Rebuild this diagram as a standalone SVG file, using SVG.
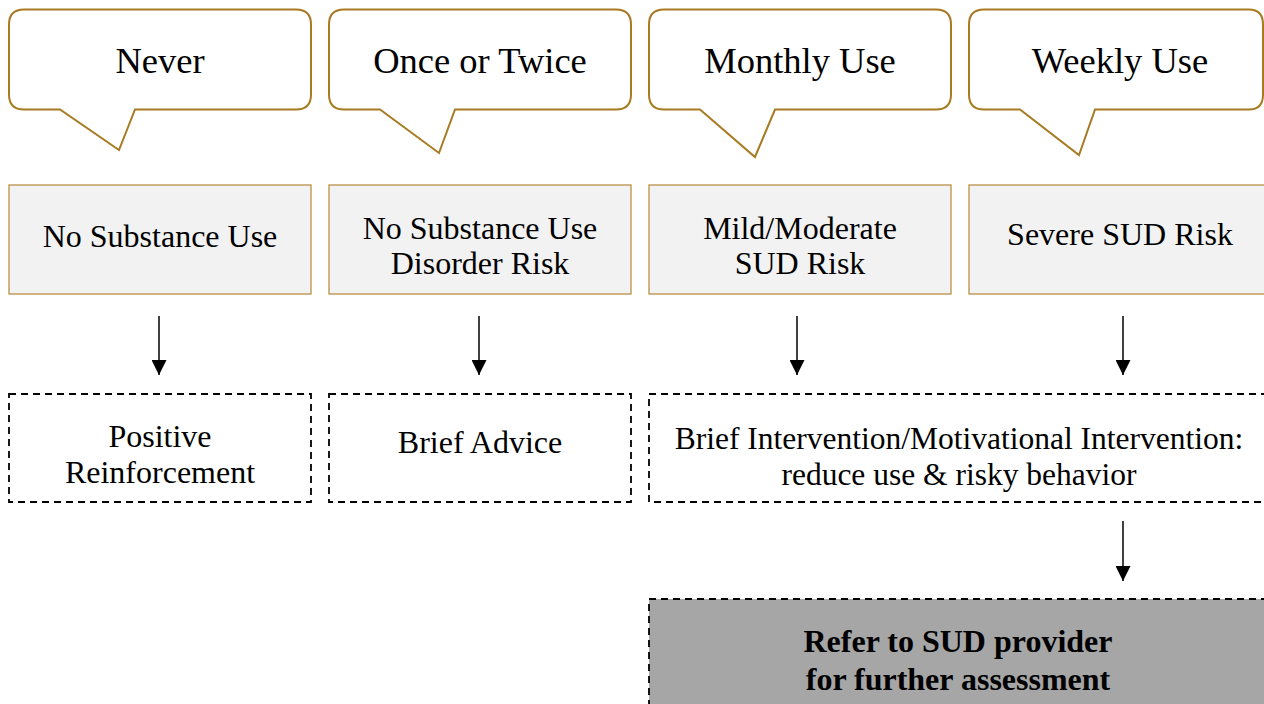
<svg xmlns="http://www.w3.org/2000/svg" width="1264" height="704" viewBox="0 0 1264 704">
<style>
.callout{fill:#ffffff;stroke:#a87b22;stroke-width:2;stroke-linejoin:miter}
.risk{fill:#f2f2f2;stroke:#b88f45;stroke-width:1.3}
.act{fill:#ffffff;stroke:#000;stroke-width:1.8;stroke-dasharray:7 5}
.ref{fill:#a6a6a6;stroke:#000;stroke-width:1.8;stroke-dasharray:7 5}
text{font-family:"Liberation Serif","Times New Roman",serif;fill:#000;text-anchor:middle}
.t1{font-size:36.5px}
.t2{font-size:32px}
.t3{font-size:31.5px}
.tb{font-size:32px;font-weight:bold}
.shaft{stroke:#404040;stroke-width:2;fill:none}
</style>
<defs>
<marker id="ah" viewBox="0 0 15 15" refX="15" refY="7.5" markerWidth="15" markerHeight="15" markerUnits="userSpaceOnUse" orient="auto">
<path d="M0,0 L15,7.5 L0,15 Z" fill="#000"/>
</marker>
</defs>

<g id="callout-never">
<path class="callout" d="M24,9.5 H296 Q311,9.5 311,24.5 V94.5 Q311,109.5 296,109.5 H135 L119,150 L60,109.5 H24 Q9,109.5 9,94.5 V24.5 Q9,9.5 24,9.5 Z"/>
<text class="t1" x="160" y="73">Never</text>
</g>
<g id="callout-once">
<path class="callout" d="M344,9.5 H616 Q631,9.5 631,24.5 V94.5 Q631,109.5 616,109.5 H455 L439,153 L380,109.5 H344 Q329,109.5 329,94.5 V24.5 Q329,9.5 344,9.5 Z"/>
<text class="t1" x="480" y="73">Once or Twice</text>
</g>
<g id="callout-monthly">
<path class="callout" d="M664,9.5 H936 Q951,9.5 951,24.5 V94.5 Q951,109.5 936,109.5 H775 L755,157 L700,109.5 H664 Q649,109.5 649,94.5 V24.5 Q649,9.5 664,9.5 Z"/>
<text class="t1" x="800" y="73">Monthly Use</text>
</g>
<g id="callout-weekly">
<path class="callout" d="M984,9.5 H1249 Q1263,9.5 1263,24.5 V94.5 Q1263,109.5 1249,109.5 H1095 L1079,155 L1020,109.5 H984 Q969,109.5 969,94.5 V24.5 Q969,9.5 984,9.5 Z"/>
<text class="t1" x="1120" y="73">Weekly Use</text>
</g>

<g id="risk-none">
<rect class="risk" x="9" y="185" width="302" height="109"/>
<text class="t2" x="160" y="247">No Substance Use</text>
</g>
<g id="risk-nodisorder">
<rect class="risk" x="329" y="185" width="302" height="109"/>
<text class="t2" x="480" y="239">No Substance Use</text>
<text class="t2" x="480" y="274">Disorder Risk</text>
</g>
<g id="risk-mild">
<rect class="risk" x="649" y="185" width="302" height="109"/>
<text class="t2" x="800" y="239">Mild/Moderate</text>
<text class="t2" x="800" y="274">SUD Risk</text>
</g>
<g id="risk-severe">
<rect class="risk" x="969" y="185" width="310" height="109"/>
<text class="t2" x="1120" y="245">Severe SUD Risk</text>
</g>

<g id="act-positive">
<rect class="act" x="9" y="394" width="302" height="108"/>
<text class="t2" x="160" y="447">Positive</text>
<text class="t2" x="160" y="483">Reinforcement</text>
</g>
<g id="act-advice">
<rect class="act" x="329" y="394" width="302" height="108"/>
<text class="t2" x="480" y="453">Brief Advice</text>
</g>
<g id="act-intervention">
<rect class="act" x="649" y="394" width="630" height="108"/>
<text class="t3" x="959" y="449">Brief Intervention/Motivational Intervention:</text>
<text class="t3" x="959" y="485">reduce use &amp; risky behavior</text>
</g>
<g id="refer">
<rect class="ref" x="649" y="599" width="630" height="120"/>
<text class="tb" x="958" y="652">Refer to SUD provider</text>
<text class="tb" x="958" y="690">for further assessment</text>
</g>

<g id="connectors">
<line class="shaft" x1="159" y1="316" x2="159" y2="375" marker-end="url(#ah)"/>
<line class="shaft" x1="479" y1="316" x2="479" y2="375" marker-end="url(#ah)"/>
<line class="shaft" x1="797" y1="316" x2="797" y2="375" marker-end="url(#ah)"/>
<line class="shaft" x1="1123" y1="316" x2="1123" y2="375" marker-end="url(#ah)"/>
<line class="shaft" x1="1123" y1="521" x2="1123" y2="581" marker-end="url(#ah)"/>
</g>
</svg>
